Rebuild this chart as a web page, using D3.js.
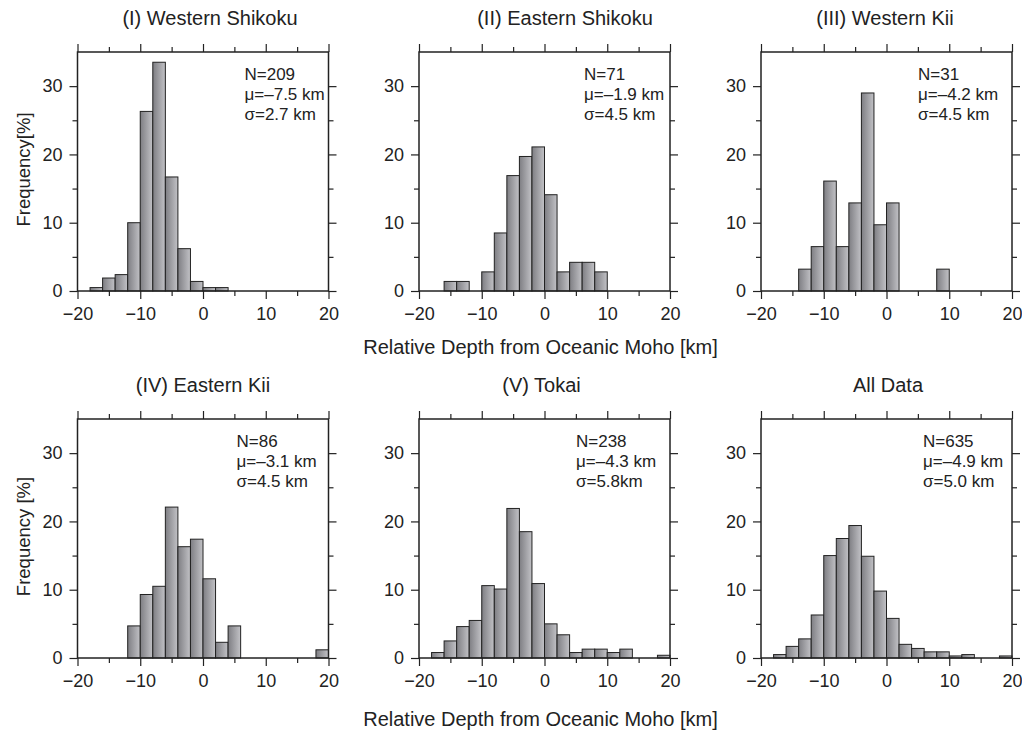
<!DOCTYPE html>
<html><head><meta charset="utf-8">
<script src="https://cdn.jsdelivr.net/npm/d3@7"></script>
<style>
html,body{margin:0;padding:0;background:#fff;}
text{font-family:"Liberation Sans",Arial,Helvetica,sans-serif;fill:#222;}
</style></head>
<body>
<svg id="chart" width="1022" height="731"></svg>
<script>
// ---- data ----
const binStarts = [-20,-18,-16,-14,-12,-10,-8,-6,-4,-2,0,2,4,6,8,10,12,14,16,18];
const binWidth = 2;
const panelTitles = ["(I) Western Shikoku","(II) Eastern Shikoku","(III) Western Kii","(IV) Eastern Kii","(V) Tokai","All Data"];
const freqWesternShikoku = [0,0.5,1.9,2.4,10.0,26.3,33.5,16.7,6.2,1.4,0.5,0.5,0,0,0,0,0,0,0,0];
const freqEasternShikoku = [0,0,1.4,1.4,0,2.8,8.5,16.9,19.7,21.1,14.1,2.8,4.2,4.2,2.8,0,0,0,0,0];
const freqWesternKii     = [0,0,0,3.2,6.5,16.1,6.5,12.9,29.0,9.7,12.9,0,0,0,3.2,0,0,0,0,0];
const freqEasternKii     = [0,0,0,0,4.7,9.3,10.5,22.1,16.3,17.4,11.6,2.3,4.7,0,0,0,0,0,0,1.2];
const freqTokai          = [0,0.8,2.5,4.6,5.5,10.6,10.1,21.9,18.5,10.9,5.0,3.4,0.8,1.3,1.3,0.8,1.3,0,0,0.4];
const freqAllData        = [0,0.5,1.7,2.8,6.3,15.0,17.5,19.4,14.9,9.8,5.8,2.0,1.4,0.9,0.9,0.3,0.5,0,0,0.3];
const statN     = ["N=209","N=71","N=31","N=86","N=238","N=635"];
const statMu    = ["μ=–7.5 km","μ=–1.9 km","μ=–4.2 km","μ=–3.1 km","μ=–4.3 km","μ=–4.9 km"];
const statSigma = ["σ=2.7 km","σ=4.5 km","σ=4.5 km","σ=4.5 km","σ=5.8km","σ=5.0 km"];
const xTicks = [-20,-10,0,10,20];
const xMinorTicks = [-15,-5,5,15];
const yTicks = [0,10,20,30];
const yMinorTicks = [5,15,25];
const xDomain = [-20,20];
const yDomain = [0,35];
const xTitle = "Relative Depth from Oceanic Moho [km]";
const yTitles = ["Frequency[%]","Frequency [%]"];

const freqs = [freqWesternShikoku,freqEasternShikoku,freqWesternKii,freqEasternKii,freqTokai,freqAllData];

// ---- layout ----
const W = 251, H = 239;
const colX = [77.5, 419, 761];
const rowY = [52, 419];
const titleDx = [7, 20.5, -1.5, 0, -3, 1.5];
const statDx = [167, 165, 157, 159, 157, 162];
const xTitleY = [63, 68];

const svg = d3.select("#chart");
const defs = svg.append("defs");
const grad = defs.append("linearGradient").attr("id","barGrad")
  .attr("x1","0").attr("x2","1").attr("y1","0").attr("y2","0");
grad.append("stop").attr("offset","0").attr("stop-color","#7e7e83");
grad.append("stop").attr("offset","1").attr("stop-color","#c2c2c6");

const x = d3.scaleLinear().domain(xDomain).range([0,W]);
const y = d3.scaleLinear().domain(yDomain).range([H,0]);
const INK = "#222";
const tickStyle = s => { s.select(".domain").remove(); s.selectAll("line").attr("stroke",INK).attr("stroke-width",1.2); };

panelTitles.forEach((title,i)=>{
  const r = Math.floor(i/3), c = i%3;
  const g = svg.append("g").attr("transform",`translate(${colX[c]},${rowY[r]})`);
  const data = binStarts.map((b,k)=>({x0:b,x1:b+binWidth,v:freqs[i][k]})).filter(d=>d.v>0);

  g.selectAll("rect.bar").data(data).enter().append("rect")
    .attr("class","bar")
    .attr("x",d=>x(d.x0)).attr("width",d=>x(d.x1)-x(d.x0))
    .attr("y",d=>y(d.v)).attr("height",d=>y(0)-y(d.v))
    .attr("fill","url(#barGrad)").attr("stroke",INK).attr("stroke-width",1);

  g.append("rect").attr("x",0).attr("y",0).attr("width",W).attr("height",H)
    .attr("fill","none").attr("stroke",INK).attr("stroke-width",1.5);

  const bottom = g.append("g").attr("transform",`translate(0,${H})`)
    .call(d3.axisBottom(x).tickValues(xTicks).tickSize(8).tickPadding(8).tickFormat(d=>d<0?"−"+Math.abs(d):d));
  tickStyle(bottom);
  bottom.selectAll("text").style("font-size","18px").attr("fill",INK);
  g.append("g").attr("transform",`translate(0,${H})`).call(d3.axisBottom(x).tickValues(xMinorTicks).tickSize(5).tickFormat("")).call(tickStyle);
  g.append("g").call(d3.axisTop(x).tickValues(xTicks).tickSize(8).tickFormat("")).call(tickStyle);
  g.append("g").call(d3.axisTop(x).tickValues(xMinorTicks).tickSize(5).tickFormat("")).call(tickStyle);
  const left = g.append("g").call(d3.axisLeft(y).tickValues(yTicks).tickSize(8).tickPadding(7));
  tickStyle(left);
  left.selectAll("text").style("font-size","18px").attr("fill",INK);
  g.append("g").call(d3.axisLeft(y).tickValues(yMinorTicks).tickSize(5).tickFormat("")).call(tickStyle);
  g.append("g").attr("transform",`translate(${W},0)`).call(d3.axisRight(y).tickValues(yTicks).tickSize(8).tickFormat("")).call(tickStyle);
  g.append("g").attr("transform",`translate(${W},0)`).call(d3.axisRight(y).tickValues(yMinorTicks).tickSize(5).tickFormat("")).call(tickStyle);

  g.append("text").attr("x",W/2+titleDx[i]).attr("y",-27).attr("text-anchor","middle")
    .style("font-size","20px").text(title);

  const st = g.append("text").attr("x",statDx[i]).attr("y",28).style("font-size","17px");
  st.append("tspan").attr("x",statDx[i]).attr("dy",0).text(statN[i]);
  st.append("tspan").attr("x",statDx[i]).attr("dy",20).text(statMu[i]);
  st.append("tspan").attr("x",statDx[i]).attr("dy",20).text(statSigma[i]);

  if(c===0){
    g.append("text").attr("transform",`translate(${-48},${H/2-2}) rotate(-90)`)
      .attr("text-anchor","middle").style("font-size","18.5px").text(yTitles[r]);
  }
  if(c===1){
    g.append("text").attr("x",W/2-4).attr("y",H+xTitleY[r]).attr("text-anchor","middle")
      .style("font-size","20px").text(xTitle);
  }
});
</script>
</body></html>
